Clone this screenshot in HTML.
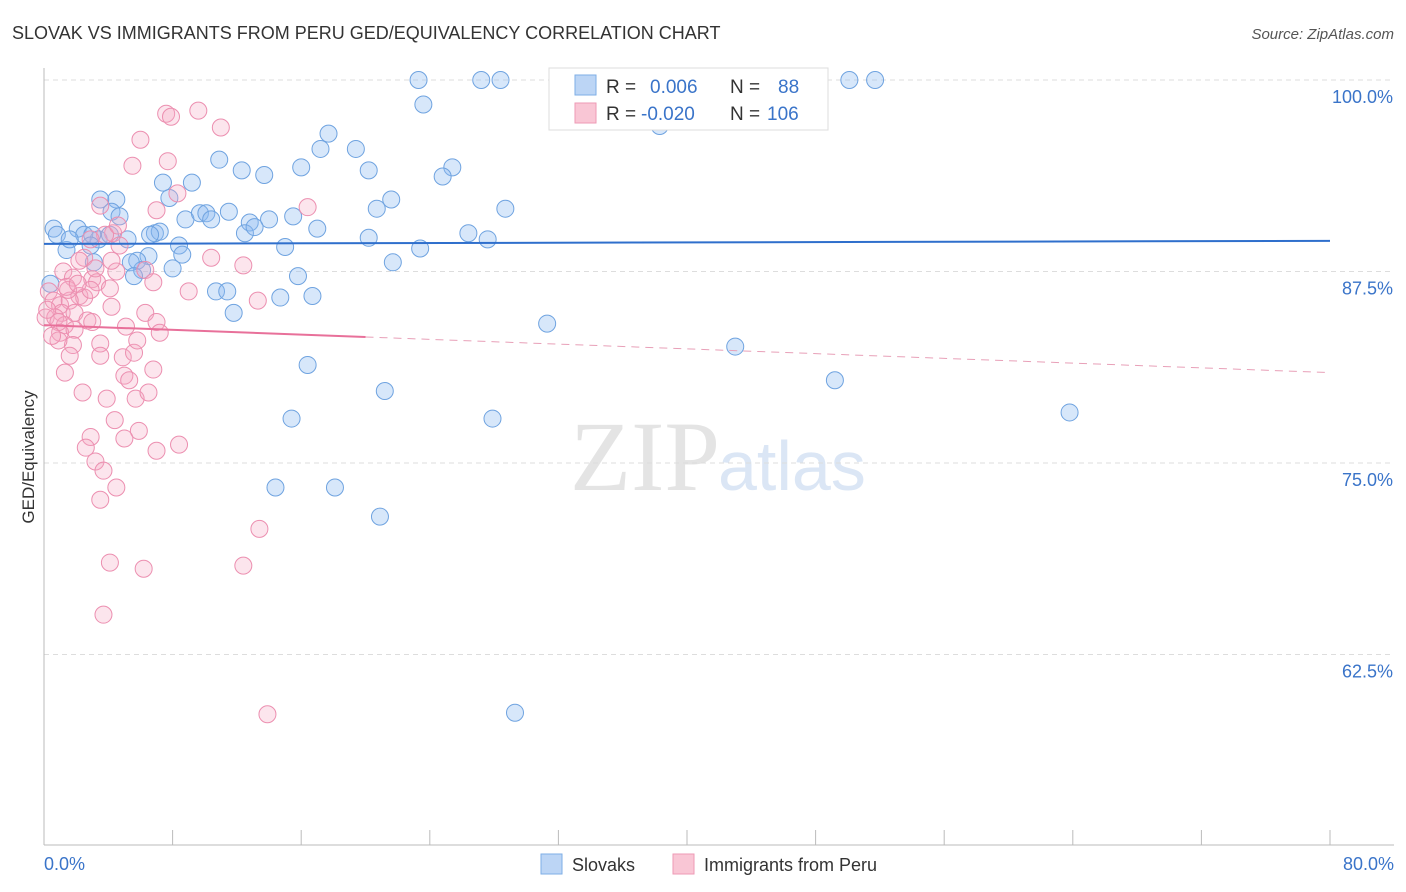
<!DOCTYPE html>
<html><head><meta charset="utf-8"><style>
body{margin:0;background:#fff;font-family:"Liberation Sans",sans-serif;}
svg{display:block}
</style></head><body>
<svg id="chart" width="1406" height="892" xmlns="http://www.w3.org/2000/svg">
<text x="12" y="39" font-size="18" fill="#333">SLOVAK VS IMMIGRANTS FROM PERU GED/EQUIVALENCY CORRELATION CHART</text>
<text x="1394" y="39" font-size="15" fill="#555" font-style="italic" text-anchor="end">Source: ZipAtlas.com</text>
<text x="720" y="490" font-size="100" fill="#e4e4e4" text-anchor="end" font-family="Liberation Serif,serif">ZIP</text>
<text x="718" y="490" font-size="70" fill="#dbe6f5">atlas</text>
<text x="34" y="457" font-size="17" fill="#333" transform="rotate(-90 34 457)" text-anchor="middle">GED/Equivalency</text>
<g id="grid"></g><g id="axes"></g><g id="pts"></g><g id="lines"></g>
<g>
<rect x="549" y="68" width="279" height="62" fill="#fff" stroke="#ddd"/>
<rect x="575" y="75" width="21" height="20" fill="#bcd5f5" stroke="#7eaee6"/>
<rect x="575" y="103" width="21" height="20" fill="#f9c6d5" stroke="#ee9ab5"/>
<text x="606" y="93" font-size="19" fill="#333">R = <tspan fill="#3a74c9" x="650">0.006</tspan><tspan x="730" fill="#333">N =</tspan><tspan x="778" fill="#3a74c9">88</tspan></text>
<text x="606" y="120" font-size="19" fill="#333">R = <tspan fill="#3a74c9" x="641">-0.020</tspan><tspan x="730" fill="#333">N =</tspan><tspan x="767" fill="#3a74c9">106</tspan></text>
</g>
<g>
<rect x="541" y="854" width="21" height="20" fill="#bcd5f5" stroke="#7eaee6"/>
<text x="572" y="871" font-size="18" fill="#333">Slovaks</text>
<rect x="673" y="854" width="21" height="20" fill="#f9c6d5" stroke="#ee9ab5"/>
<text x="704" y="871" font-size="18" fill="#333">Immigrants from Peru</text>
</g>
</svg>
<script>
const yTicks=[100,87.5,75,62.5];
const yTickLabels=["100.0%","87.5%","75.0%","62.5%"];
const xLabels=["0.0%","80.0%"];
const blueX=[23.3,27.2,28.4,36.1,38.0,50.1,51.7,23.6,38.3,17.7,19.4,17.2,10.9,16.0,20.2,25.4,24.8,7.4,9.2,12.3,13.7,3.5,4.5,21.6,20.7,28.7,7.8,4.2,4.7,8.8,9.7,10.1,10.4,11.5,12.8,14.0,15.5,0.6,2.1,0.8,2.5,6.9,7.2,12.5,13.1,17.0,26.4,27.6,20.2,23.4,15.0,8.4,8.6,1.4,3.1,5.2,3.4,6.5,5.8,6.1,5.4,8.0,5.6,21.7,15.8,0.4,10.7,11.4,14.7,16.7,11.8,31.3,43.0,16.4,21.2,49.2,63.8,15.4,27.9,14.4,18.1,20.9,29.3,3.0,4.1,2.9,1.6,6.6];
const blueY=[100,100,100,100,100,100,100,98.4,97.0,96.5,95.5,95.5,94.8,94.3,94.1,94.3,93.7,93.3,93.3,94.1,93.8,92.2,92.2,92.2,91.6,91.6,92.3,91.4,91.1,90.9,91.3,91.3,90.9,91.4,90.7,90.9,91.1,90.3,90.3,89.9,89.9,90.0,90.1,90.0,90.4,90.3,90.0,89.6,89.7,89.0,89.1,89.2,88.6,88.9,88.1,89.6,89.6,88.5,88.2,87.6,88.1,87.7,87.2,88.1,87.2,86.7,86.2,86.2,85.8,85.9,84.8,84.1,82.6,81.4,79.7,80.4,78.3,77.9,77.9,73.4,73.4,71.5,58.7,89.9,89.9,89.2,89.6,89.9];
const pinkX=[9.6,7.6,7.9,11.0,6.0,5.5,7.7,8.3,7.0,3.5,16.4,4.3,3.8,4.6,2.9,4.7,2.5,10.4,12.4,1.2,1.8,3.0,3.3,4.5,6.3,6.8,9.0,13.3,0.3,0.6,1.0,2.2,2.5,1.6,1.1,0.1,0.7,1.9,0.2,1.3,2.7,4.2,6.3,7.0,7.2,5.1,1.0,1.9,3.5,1.8,0.9,1.6,3.5,4.9,5.6,6.8,1.3,5.0,5.3,2.4,3.9,5.7,6.5,4.4,5.9,5.0,7.0,8.4,2.9,2.6,3.2,3.7,4.5,3.5,13.4,4.1,6.2,12.4,3.7,13.9,2.2,3.2,4.1,2.9,1.5,0.9,3.0,5.8,4.2,1.4,2.1,0.5];
const pinkY=[98.0,97.8,97.6,96.9,96.1,94.4,94.7,92.6,91.5,91.8,91.7,90.0,89.9,90.5,89.6,89.2,88.4,88.4,87.9,87.5,87.1,87.0,86.8,87.5,87.6,86.8,86.2,85.6,86.2,85.6,85.3,85.9,85.8,85.6,84.8,84.5,84.5,84.8,85.0,84.0,84.3,85.2,84.8,84.2,83.5,83.9,83.5,83.7,82.8,82.7,83.0,82.0,82.0,81.9,82.2,81.1,80.9,80.7,80.4,79.6,79.2,79.2,79.6,77.8,77.1,76.6,75.8,76.2,76.7,76.0,75.1,74.5,73.4,72.6,70.7,68.5,68.1,68.3,65.1,58.6,88.2,87.7,86.4,86.3,86.3,84.2,84.2,83.0,88.2,86.5,86.7,83.3];
const blueFit=[89.3,89.5];
const pinkFit=[84.0,80.9];
const pinkSolidEnd=20;

const NS="http://www.w3.org/2000/svg";
const X0=44,X1=1330,Y100=80,PXPER=15.32;
function sx(v){return X0+(X1-X0)*v/80;}
function sy(v){return Y100+(100-v)*PXPER;}
function mk(tag,attrs,parent){const e=document.createElementNS(NS,tag);for(const k in attrs)e.setAttribute(k,attrs[k]);parent.appendChild(e);return e;}
const grid=document.getElementById('grid'),axes=document.getElementById('axes'),pts=document.getElementById('pts'),lines=document.getElementById('lines');
yTicks.forEach((t,i)=>{
 const l=mk('line',{x1:44,x2:1394,y1:sy(t),y2:sy(t),stroke:'#ddd','stroke-dasharray':'5,4'},grid);
 
 
 const tx=mk('text',{x:1393,y:sy(t)+23,'font-size':18,fill:'#3a74c9','text-anchor':'end'},axes);
 tx.textContent=yTickLabels[i];
 
 
});
const ya=mk('line',{x1:44,x2:44,y1:68,y2:845,stroke:'#bbb'},axes);


const xa=mk('line',{x1:44,x2:1394,y1:845,y2:845,stroke:'#bbb'},axes);


for(let i=0;i<=10;i++){
 const t=mk('line',{x1:sx(i*8),x2:sx(i*8),y1:830,y2:845,stroke:'#bbb'},axes);
 
 
}
[[0,'start'],[80,'end']].forEach((p,i)=>{
 const tx=mk('text',{x:p[0]==0?44:1394,y:870,'font-size':18,fill:'#3a74c9','text-anchor':p[1]},axes);
 tx.textContent=xLabels[i];
 
 
});
blueX.forEach((v,i)=>{
 const c=mk('circle',{cx:sx(v),cy:sy(blueY[i]),r:8.5,fill:'rgba(140,185,240,0.35)',stroke:'#6fa3e0','stroke-width':1},pts);
 
 
});
pinkX.forEach((v,i)=>{
 const c=mk('circle',{cx:sx(v),cy:sy(pinkY[i]),r:8.5,fill:'rgba(245,170,195,0.3)',stroke:'#ec8fb0','stroke-width':1},pts);
 
 
});
const bl=mk('line',{x1:sx(0),x2:sx(80),y1:sy(blueFit[0]),y2:sy(blueFit[1]),stroke:'#2f6fcc','stroke-width':2},lines);


const pAt=x=>pinkFit[0]+(pinkFit[1]-pinkFit[0])*x/80;
const pl=mk('line',{x1:sx(0),x2:sx(pinkSolidEnd),y1:sy(pAt(0)),y2:sy(pAt(pinkSolidEnd)),stroke:'#e8709a','stroke-width':2},lines);


const pd=mk('line',{x1:sx(pinkSolidEnd),x2:sx(80),y1:sy(pAt(pinkSolidEnd)),y2:sy(pAt(80)),stroke:'#e8a0b8','stroke-width':1,'stroke-dasharray':'8,6'},lines);


</script>
</body></html>
